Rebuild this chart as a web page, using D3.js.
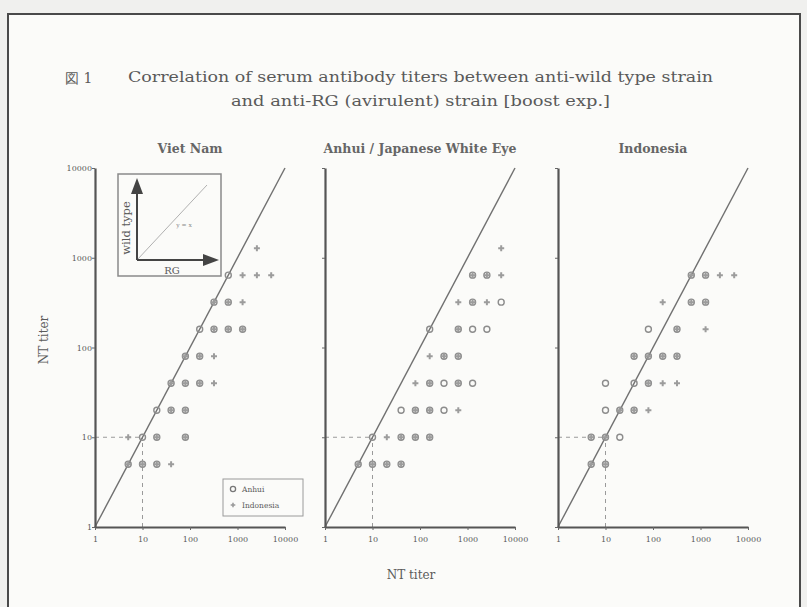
<!DOCTYPE html>
<html>
<head>
<meta charset="utf-8">
<script src="https://cdn.jsdelivr.net/npm/d3@7"></script>
<style>
  body { margin: 0; background: #f0f0ee; }
  svg { display: block; }
  text { font-family: "DejaVu Serif", "Liberation Serif", serif; fill: #5a5a5a; }
</style>
</head>
<body>
<svg id="chart"></svg>
<script>
// panel titles and axis ticks
var panelTitles = ["Viet Nam", "Anhui / Japanese White Eye", "Indonesia"];
var tickValues = [1, 10, 100, 1000, 10000];

// [RG titer, wild type titer]
var vietNamAnhui = [[5,5],[10,5],[20,5],[10,10],[20,10],[80,10],[20,20],[40,20],[80,20],
  [40,40],[80,40],[160,40],[80,80],[160,80],[160,160],[320,160],[640,160],[1280,160],
  [320,320],[640,320],[640,640]];
var vietNamIndonesia = [[5,5],[10,5],[20,5],[40,5],[5,10],[20,10],[80,10],[40,20],[80,20],
  [40,40],[80,40],[160,40],[320,40],[80,80],[160,80],[320,80],[320,160],[640,160],[1280,160],
  [320,320],[640,320],[1280,320],[1280,640],[2560,640],[5120,640],[2560,1280]];

var anhuiAnhui = [[5,5],[10,5],[20,5],[40,5],[10,10],[40,10],[80,10],[160,10],[40,20],[80,20],
  [160,20],[320,20],[160,40],[320,40],[640,40],[1280,40],[320,80],[640,80],[160,160],[640,160],
  [1280,160],[2560,160],[1280,320],[5120,320],[1280,640],[2560,640]];
var anhuiIndonesia = [[5,5],[10,5],[20,5],[40,5],[20,10],[40,10],[80,10],[160,10],[80,20],
  [160,20],[640,20],[80,40],[160,40],[640,40],[160,80],[320,80],[640,80],[640,160],
  [640,320],[1280,320],[2560,320],[1280,640],[2560,640],[5120,640],[5120,1280]];

var indonesiaAnhui = [[5,5],[10,5],[5,10],[10,10],[20,10],[10,20],[20,20],[40,20],[10,40],
  [40,40],[80,40],[40,80],[80,80],[160,80],[320,80],[80,160],[320,160],[640,320],[1280,320],
  [640,640],[1280,640]];
var indonesiaIndonesia = [[5,5],[10,5],[5,10],[10,10],[20,20],[40,20],[80,20],[80,40],[160,40],
  [320,40],[40,80],[80,80],[160,80],[320,80],[320,160],[1280,160],[160,320],[640,320],
  [1280,320],[640,640],[1280,640],[2560,640],[5120,640]];

var panelData = [
  {anhui: vietNamAnhui, indonesia: vietNamIndonesia},
  {anhui: anhuiAnhui, indonesia: anhuiIndonesia},
  {anhui: indonesiaAnhui, indonesia: indonesiaIndonesia}
];

var width = 807, height = 607;
var svg = d3.select("#chart").attr("width", width).attr("height", height);

// paper + frame
svg.append("rect").attr("x", 8).attr("y", 14).attr("width", 792).attr("height", 620)
  .attr("fill", "#fbfbf9").attr("stroke", "#4a4a4a").attr("stroke-width", 2);

// title
svg.append("text").attr("x", 65).attr("y", 83).style("font-size", "14px").text("図 1");
svg.append("text").attr("x", 128).attr("y", 82).attr("textLength", 585)
  .attr("lengthAdjust", "spacingAndGlyphs").style("font-size", "14px")
  .text("Correlation of serum antibody titers between anti-wild type strain");
svg.append("text").attr("x", 231).attr("y", 106).attr("textLength", 379)
  .attr("lengthAdjust", "spacingAndGlyphs").style("font-size", "14px")
  .text("and anti-RG (avirulent) strain [boost exp.]");

var panelLeft = [95, 325, 558];
var panelW = 190;
var plotTop = 168, plotBottom = 527;

var y = d3.scaleLog().domain([1, 10000]).range([plotBottom, plotTop]);

panelLeft.forEach(function(left, i) {
  var x = d3.scaleLog().domain([1, 10000]).range([left, left + panelW]);
  var g = svg.append("g");

  g.append("text").attr("x", x(100)).attr("y", 153).attr("text-anchor", "middle")
    .style("font-size", "12.5px").style("font-weight", "bold").style("fill", "#666")
    .text(panelTitles[i]);

  // detection limit lines
  g.append("path")
    .attr("d", "M" + x(1) + "," + y(10) + "H" + x(10) + "M" + x(10) + "," + y(1) + "V" + y(10))
    .attr("fill", "none").attr("stroke", "#9a9a9a").attr("stroke-width", 1)
    .attr("stroke-dasharray", "4,4");

  // y = x
  g.append("line").attr("x1", x(1)).attr("y1", y(1)).attr("x2", x(10000)).attr("y2", y(10000))
    .attr("stroke", "#707070").attr("stroke-width", 1.4);

  var xAxis = g.append("g").attr("transform", "translate(0," + plotBottom + ")")
    .call(d3.axisBottom(x).tickValues(tickValues).tickFormat(d3.format("d")).tickSize(3).tickSizeOuter(0));
  var yAxis = g.append("g").attr("transform", "translate(" + left + ",0)")
    .call(d3.axisLeft(y).tickValues(tickValues).tickFormat(i === 0 ? d3.format("d") : "").tickSize(3).tickSizeOuter(0));

  [xAxis, yAxis].forEach(function(ax) {
    ax.select(".domain").attr("stroke", "#555").attr("stroke-width", 2.2);
    ax.selectAll(".tick line").attr("stroke", "#666");
    ax.selectAll(".tick text").style("font-size", "8px").style("font-family", "'DejaVu Serif', serif")
      .attr("fill", "#666");
  });
  xAxis.selectAll(".tick text").attr("dy", "1.1em");
  yAxis.selectAll(".tick text").attr("x", -3);

  var d = panelData[i];
  g.selectAll(".anhui").data(d.anhui).enter().append("circle")
    .attr("cx", function(p) { return x(p[0]); })
    .attr("cy", function(p) { return y(p[1]); })
    .attr("r", 3).attr("fill", "none").attr("stroke", "#8c8c8c").attr("stroke-width", 1.4);
  g.selectAll(".indo").data(d.indonesia).enter().append("path")
    .attr("d", d3.symbol(d3.symbolCross).size(20))
    .attr("transform", function(p) { return "translate(" + x(p[0]) + "," + y(p[1]) + ")"; })
    .attr("fill", "#9c9c9c");
});

// axis labels
svg.append("text").attr("transform", "translate(48,340) rotate(-90)").attr("text-anchor", "middle")
  .style("font-size", "12px").text("NT titer");
svg.append("text").attr("x", 411).attr("y", 579).attr("text-anchor", "middle")
  .style("font-size", "12px").text("NT titer");

// inset explaining the axes
var inset = svg.append("g");
inset.append("rect").attr("x", 118).attr("y", 174).attr("width", 103).attr("height", 102)
  .attr("fill", "#fbfbf9").attr("stroke", "#8a8a8a").attr("stroke-width", 1.5);
inset.append("line").attr("x1", 137).attr("y1", 260).attr("x2", 207).attr("y2", 185)
  .attr("stroke", "#b0b0b0").attr("stroke-width", 1);
inset.append("line").attr("x1", 137).attr("y1", 260).attr("x2", 137).attr("y2", 192)
  .attr("stroke", "#444").attr("stroke-width", 2);
inset.append("line").attr("x1", 137).attr("y1", 260).attr("x2", 205).attr("y2", 260)
  .attr("stroke", "#444").attr("stroke-width", 2);
inset.append("path").attr("d", "M131,194 L137,178 L143,194 Z").attr("fill", "#444");
inset.append("path").attr("d", "M203,254 L219,260 L203,266 Z").attr("fill", "#444");
inset.append("text").attr("x", 184).attr("y", 227).attr("text-anchor", "middle")
  .style("font-size", "6px").style("fill", "#888").text("y = x");
inset.append("text").attr("transform", "translate(130,228) rotate(-90)").attr("text-anchor", "middle")
  .style("font-size", "11.5px").text("wild type");
inset.append("text").attr("x", 172).attr("y", 274).attr("text-anchor", "middle")
  .style("font-size", "10px").text("RG");

// legend
var legend = svg.append("g");
legend.append("rect").attr("x", 223).attr("y", 479).attr("width", 80).attr("height", 37)
  .attr("fill", "#fbfbf9").attr("stroke", "#9a9a9a").attr("stroke-width", 1);
legend.append("circle").attr("cx", 233).attr("cy", 489).attr("r", 2.6)
  .attr("fill", "none").attr("stroke", "#777").attr("stroke-width", 1.3);
legend.append("path").attr("d", d3.symbol(d3.symbolCross).size(12))
  .attr("transform", "translate(233,505)").attr("fill", "#999");
legend.append("text").attr("x", 242).attr("y", 492).style("font-size", "7.5px").text("Anhui");
legend.append("text").attr("x", 242).attr("y", 508).style("font-size", "7.5px").text("Indonesia");
</script>
</body>
</html>
